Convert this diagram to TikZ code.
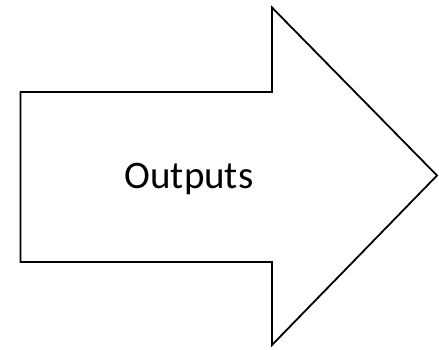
\documentclass[tikz,border=0pt]{standalone}
\usepackage{fontspec}
\setmainfont{Carlito}
\begin{document}
\begin{tikzpicture}[x=1pt,y=-1pt,
  arrowshape/.style={draw=black,line width=1.8pt,fill=white,line join=miter},
  lbl/.style={font=\fontsize{39}{46}\selectfont,inner sep=0pt,anchor=base}]
\useasboundingbox (0,0) rectangle (439,350);
\coordinate (a1) at (20.5,92);
\coordinate (a2) at (272,92);
\coordinate (a3) at (272,7.5);
\coordinate (a4) at (437,175.5);
\coordinate (a5) at (272,345);
\coordinate (a6) at (272,262);
\coordinate (a7) at (20.5,262);
\draw[arrowshape] (a1) -- (a2) -- (a3) -- (a4) -- (a5) -- (a6) -- (a7) -- cycle;
\node[lbl] (t) at (189,188) {Outputs};
\end{tikzpicture}
\end{document}
